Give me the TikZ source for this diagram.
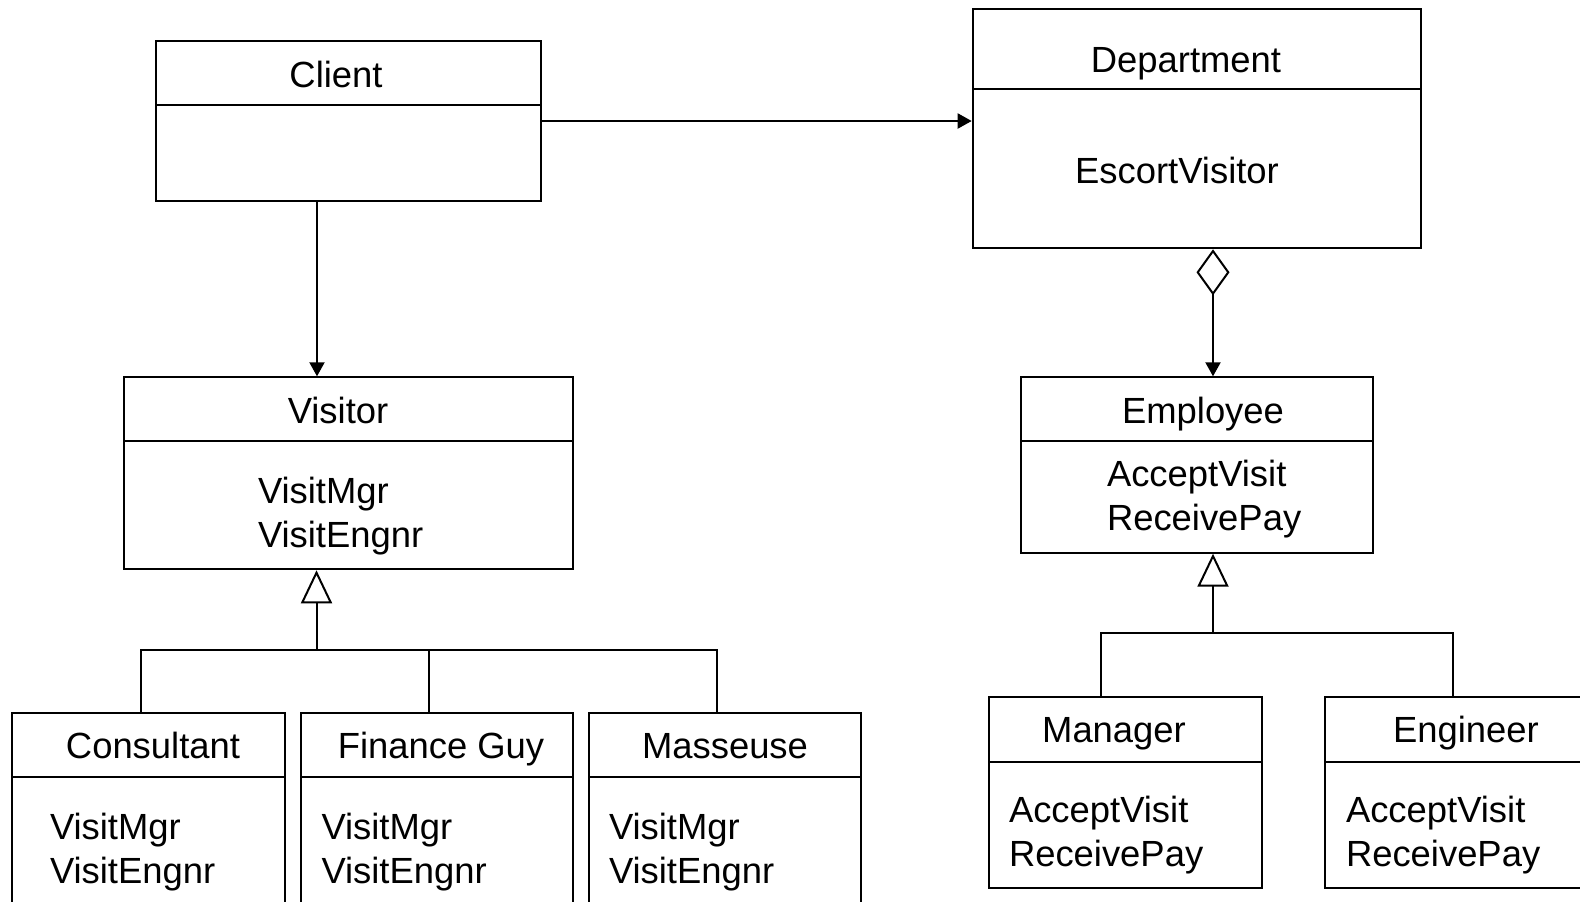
\documentclass[tikz,border=0pt]{standalone}
\usepackage{fontspec}
\setmainfont{Liberation Sans}
\usetikzlibrary{arrows.meta,fit}

\tikzset{
  classbox/.style={draw, inner sep=0pt},
  classname/.style={anchor=base, inner sep=0pt},
  classops/.style={anchor=base west, align=left, inner sep=0pt},
  assoc/.style={-{Triangle[length=7pt,width=7.5pt]}},
  inherit/.style={-{Triangle[open,length=16.5pt,width=15.5pt]}},
  aggr/.style={{Diamond[open,length=23pt,width=16.5pt]}-{Triangle[length=7pt,width=7.5pt]}}
}

\begin{document}
\begin{tikzpicture}[x=0.5pt, y=-0.5pt, line width=1pt, font=\fontsize{18.2}{21.8}\selectfont]
  \useasboundingbox (0,0) rectangle (1580,901);
  \clip (0,0) rectangle (1580,901);

  \node[classbox, fit={(156,41) (541,201)}] (client) {};
  \draw (156,105) -- (541,105);
  \node[classname] (clientname) at (336,87) {Client};

  \node[classbox, fit={(972.7,9.3) (1421,248.3)}] (department) {};
  \draw (972.7,89.3) -- (1421,89.3);
  \node[classname] (departmentname) at (1186,72) {Department};
  \node[classname] (departmentops) at (1177,183) {EscortVisitor};

  \node[classbox, fit={(124.3,377.3) (572.7,569.3)}] (visitor) {};
  \draw (124.3,440.7) -- (572.7,440.7);
  \node[classname] (visitorname) at (338,423) {Visitor};
  \node[classops] (visitorops) at (257,547.5) {VisitMgr\\VisitEngnr};

  \node[classbox, fit={(1020.7,377.3) (1372.7,552.7)}] (employee) {};
  \draw (1020.7,440.7) -- (1372.7,440.7);
  \node[classname] (employeename) at (1203,423) {Employee};
  \node[classops] (employeeops) at (1106,530.5) {AcceptVisit\\ReceivePay};

  \node[classbox, fit={(12,713.4) (285,930)}] (consultant) {};
  \draw (12,777) -- (285,777);
  \node[classname] (consultantname) at (153,758) {Consultant};
  \node[classops] (consultantops) at (49,883.5) {VisitMgr\\VisitEngnr};

  \node[classbox, fit={(301,713.4) (572.5,930)}] (financeguy) {};
  \draw (301,777) -- (572.5,777);
  \node[classname] (financeguyname) at (441,758) {Finance Guy};
  \node[classops] (financeguyops) at (320.5,883.5) {VisitMgr\\VisitEngnr};

  \node[classbox, fit={(589,713.4) (861,930)}] (masseuse) {};
  \draw (589,777) -- (861,777);
  \node[classname] (masseusename) at (725,758) {Masseuse};
  \node[classops] (masseuseops) at (608,883.5) {VisitMgr\\VisitEngnr};

  \node[classbox, fit={(989,697.3) (1261.7,888.3)}] (manager) {};
  \draw (989,761.5) -- (1261.7,761.5);
  \node[classname] (managername) at (1114,742) {Manager};
  \node[classops] (managerops) at (1008,866.5) {AcceptVisit\\ReceivePay};

  \node[classbox, fit={(1324.7,697.3) (1600,888.3)}] (engineer) {};
  \draw (1324.7,761.5) -- (1600,761.5);
  \node[classname] (engineername) at (1466,742) {Engineer};
  \node[classops] (engineerops) at (1345,866.5) {AcceptVisit\\ReceivePay};

  \draw[assoc] (client.east) -- (client.east -| department.west);
  \coordinate (cv) at (317,0);
  \draw[assoc] (client.south -| cv) -- (visitor.north -| cv);
  \coordinate (de) at (1213,0);
  \draw[aggr] (department.south -| de) -- (employee.north -| de);

  \coordinate (vbus) at (316.5,650);
  \coordinate (cbus) at (140.5,650);
  \coordinate (fbus) at (429,650);
  \coordinate (mbus) at (717,650);
  \draw (consultant.north -| cbus) -- (cbus) -- (mbus) -- (masseuse.north -| mbus);
  \draw (fbus) -- (financeguy.north -| fbus);
  \draw[inherit] (vbus) -- (visitor.south -| vbus);

  \coordinate (ebus) at (1213,633.3);
  \coordinate (mgbus) at (1101,633.3);
  \coordinate (enbus) at (1453.3,633.3);
  \draw (manager.north -| mgbus) -- (mgbus) -- (enbus) -- (engineer.north -| enbus);
  \draw[inherit] (ebus) -- (employee.south -| ebus);
\end{tikzpicture}
\end{document}
